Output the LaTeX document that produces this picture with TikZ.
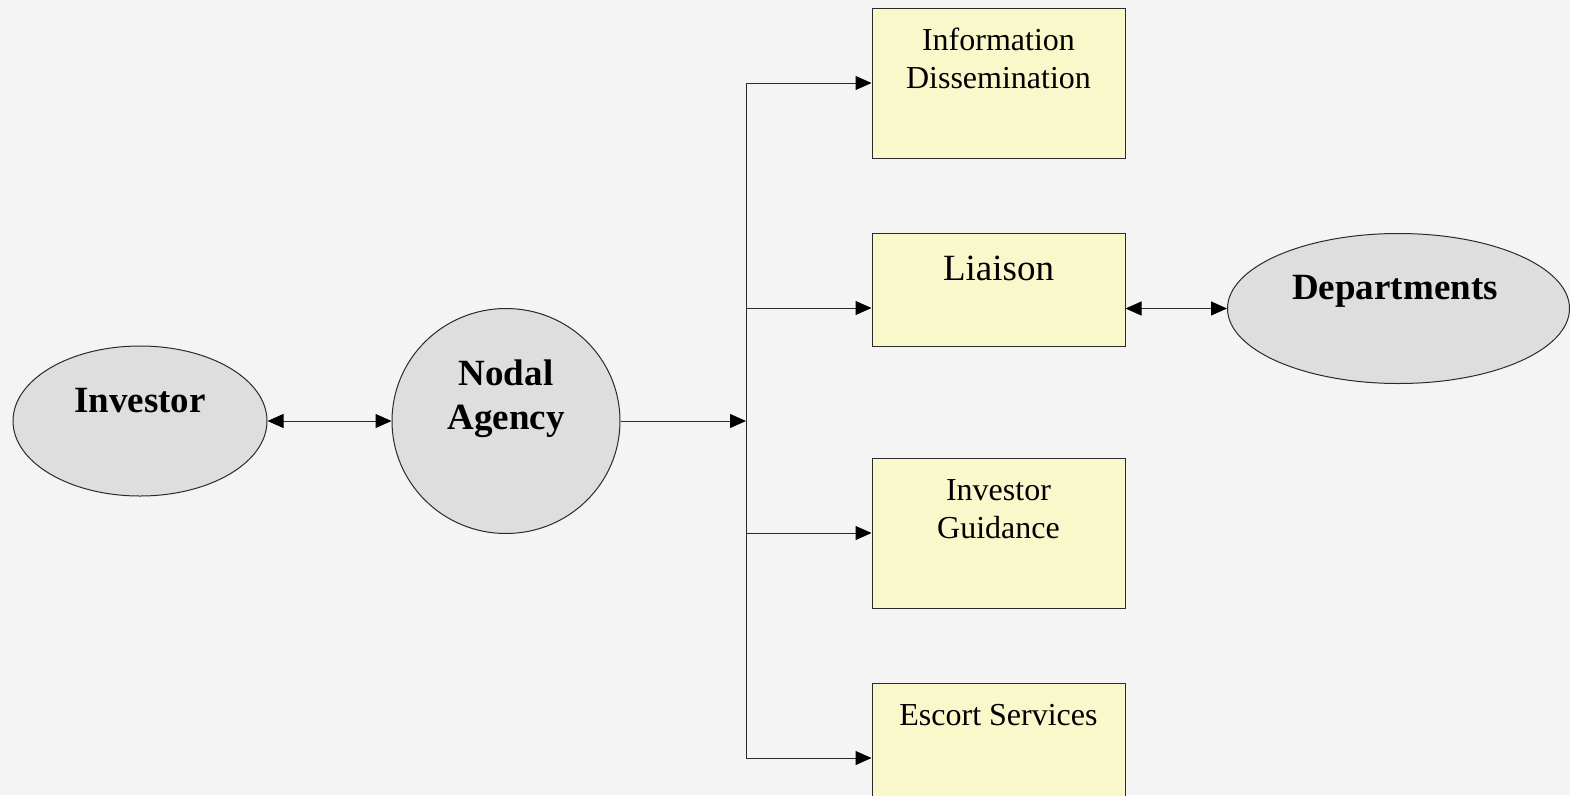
\documentclass[tikz,border=0pt]{standalone}
\usepackage{fontspec}
\setmainfont{Liberation Serif}
\usetikzlibrary{shapes.geometric,arrows.meta}
\definecolor{bgc}{HTML}{F4F4F4}
\definecolor{ellc}{HTML}{DEDEDE}
\definecolor{boxc}{HTML}{F9F8CB}
\definecolor{linec}{HTML}{2A2A2A}
\tikzset{
  oval/.style={ellipse,draw=linec,line width=1pt,fill=ellc,inner sep=0pt},
  card/.style={rectangle,draw=linec,line width=1pt,fill=boxc,inner sep=0pt,minimum width=253pt},
  bold/.style={font=\fontsize{37}{44}\selectfont\bfseries,align=center,inner sep=0pt},
  plain/.style={font=\fontsize{32}{38}\selectfont,align=center,inner sep=0pt},
  big/.style={font=\fontsize{37}{44}\selectfont,align=center,inner sep=0pt},
  conn/.style={draw=linec,line width=1pt},
  tip/.style={-{Triangle[length=16pt,width=14pt,fill=black,color=black]}},
  tips/.style={{Triangle[length=16pt,width=14pt,fill=black,color=black]}-{Triangle[length=16pt,width=14pt,fill=black,color=black]}}
}
\begin{document}
\begin{tikzpicture}[x=1pt,y=-1pt]
\clip (0,0) rectangle (1570,795);
\fill[bgc] (0,0) rectangle (1570,795);
% shapes
\node[oval,minimum width=254pt,minimum height=150pt] (inv) at (140,421) {};
\node[oval,minimum width=228pt,minimum height=225pt] (nod) at (506,421) {};
\node[oval,minimum width=342pt,minimum height=150pt] (dep) at (1398.5,308.5) {};
\node[card,minimum height=150pt] (info) at (998.5,83) {};
\node[card,minimum height=113pt] (lia) at (998.5,289.5) {};
\node[card,minimum height=150pt] (guid) at (998.5,533) {};
\node[card,minimum height=150pt] (esc) at (998.5,758) {};
% texts
\node[bold] (tinv) at (140,401) {Investor};
\node[bold] (tnod) at (506,399) {Nodal\\Agency};
\node[bold] (tdep) at (1395,291) {Departments};
\node[plain] (tinfo) at (998.5,58) {Information\\Dissemination};
\node[big] (tlia) at (998.5,268) {Liaison};
\node[plain] (tguid) at (998.5,509) {Investor\\Guidance};
\node[plain] (tesc) at (998.5,715) {Escort Services};
% bus
\coordinate (b1) at (746,83);
\coordinate (b2) at (746,308);
\coordinate (bm) at (746,421);
\coordinate (b3) at (746,533);
\coordinate (b4) at (746,758);
\draw[conn] (b1) -- (b4);
\draw[conn,tip] (nod.east) -- (bm);
\draw[conn,tip] (b1) -- (b1 -| info.west);
\draw[conn,tip] (b2) -- (b2 -| lia.west);
\draw[conn,tip] (b3) -- (b3 -| guid.west);
\draw[conn,tip] (b4) -- (b4 -| esc.west);
\draw[conn,tips] (inv.east) -- (nod.west);
\draw[conn,tips] (lia.east |- dep.west) -- (dep.west);
\end{tikzpicture}
\end{document}
